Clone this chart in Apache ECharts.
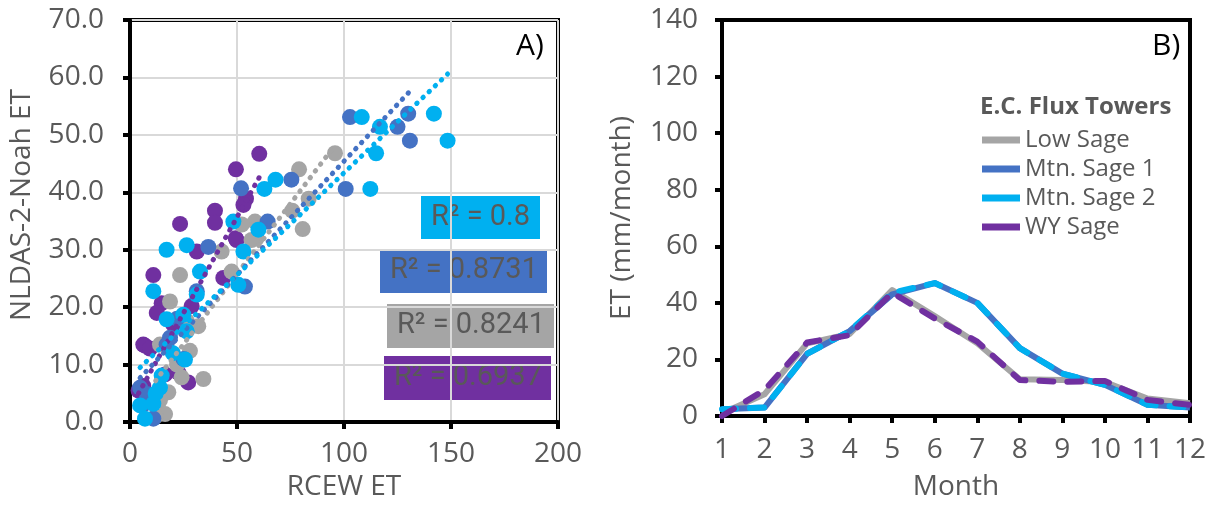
<!DOCTYPE html>
<html>
<head>
<meta charset="utf-8">
<script src="https://cdn.jsdelivr.net/npm/echarts@6/dist/echarts.min.js"></script>
<style>
  html, body { margin: 0; padding: 0; background: #fff; }
  #chart { width: 1214px; height: 506px; }
</style>
</head>
<body>
<div id="chart"></div>
<script>
// Panel A: monthly ET pairs [RCEW ET, NLDAS-2-Noah ET]
const wySage = [
  [60.4, 46.7], [49.5, 44.0], [54.2, 38.9], [53.0, 37.8], [39.7, 36.8], [39.7, 34.7],
  [23.4, 34.5], [49.4, 32.0], [49.8, 31.7], [31.2, 29.7], [10.9, 25.6], [43.6, 25.1],
  [14.8, 20.7], [28.8, 20.2], [12.5, 19.0], [20.2, 17.0], [6.2, 13.5], [7.0, 13.3],
  [9.3, 12.8], [16.4, 8.3], [22.6, 8.6], [27.2, 6.9], [6.2, 6.3], [4.0, 5.5]
]
const lowSage = [
  [95.8, 46.8], [79.0, 44.0], [83.5, 38.9], [75.8, 36.8], [80.7, 33.6], [58.4, 34.9],
  [52.2, 34.4], [59.2, 32.0], [56.8, 31.7], [42.8, 29.7], [47.5, 26.2], [23.4, 25.6],
  [18.7, 21.0], [31.9, 16.7], [26.5, 17.6], [14.0, 13.5], [28.0, 12.4], [24.1, 7.8],
  [34.3, 7.5], [17.9, 5.2], [14.0, 3.8], [16.4, 1.4], [12.0, 1.0], [22.0, 10.0]
]
const mtnSage1 = [
  [102.8, 53.1], [130.0, 53.7], [125.0, 51.4], [130.8, 49.0], [100.8, 40.6], [75.4, 42.2],
  [51.9, 40.7], [64.3, 34.9], [36.6, 30.5], [53.7, 23.6], [31.2, 22.8], [22.0, 18.0],
  [18.7, 14.7], [17.1, 13.5], [25.0, 11.0], [4.7, 6.0], [7.8, 4.9], [10.9, 0.6], [6.0, 3.0]
]
const mtnSage2 = [
  [108.3, 53.1], [116.8, 51.4], [142.0, 53.7], [148.4, 49.0], [115.0, 46.8], [112.3, 40.6],
  [68.0, 42.2], [62.8, 40.6], [48.3, 34.9], [60.0, 33.5], [17.1, 30.0], [26.5, 30.8],
  [53.0, 29.7], [32.7, 26.2], [50.6, 23.9], [10.9, 22.8], [31.2, 22.2], [24.9, 18.7],
  [17.1, 17.9], [26.5, 15.8], [25.7, 10.9], [20.0, 12.0], [14.8, 8.1], [14.0, 6.0],
  [12.0, 5.0], [4.7, 2.9], [10.9, 3.2], [7.0, 0.6]
]

// linear trendline end points
const wyTrend = [[4.0, 5.0], [60.4, 42.6]]
const lowTrend = [[12.0, 7.2], [95.8, 48.2]]
const mtn1Trend = [[4.7, 7.7], [130.8, 57.6]]
const mtn2Trend = [[4.7, 9.5], [148.4, 60.6]]

const rSquared = ['R² = 0.8', 'R² = 0.8731', 'R² = 0.8241', 'R² = 0.6937']

// Panel B: monthly ET (mm/month)
const months = ['1', '2', '3', '4', '5', '6', '7', '8', '9', '10', '11', '12']
const lowSageMonthly = [1.0, 7.7, 25.7, 29.0, 44.5, 35.3, 25.7, 13.0, 12.7, 12.0, 6.2, 4.5]
const mtnSage1Monthly = [2.4, 3.0, 22.0, 30.0, 43.0, 47.0, 40.0, 24.0, 15.0, 11.0, 4.0, 3.0]
const mtnSage2Monthly = [2.4, 3.0, 22.0, 30.0, 43.6, 47.0, 40.0, 24.0, 15.0, 11.0, 4.0, 3.0]
const wySageMonthly = [0.0, 9.2, 26.0, 28.6, 43.6, 34.5, 26.3, 12.7, 12.1, 12.4, 5.7, 3.9]

const GRAY = '#A5A5A5'
const BLUE = '#4472C4'
const CYAN = '#00B0F0'
const PURPLE = '#7030A0'
const TXT = '#595959'
const FONT = '"Open Sans", Lato, sans-serif'

const chart = echarts.init(document.getElementById('chart'))

const axisBase = {
  axisLine: { show: true, lineStyle: { color: '#000', width: 4 } },
  axisTick: { show: true, inside: false, length: 7, lineStyle: { color: '#000', width: 4 } },
  axisLabel: { color: TXT, fontSize: 28, fontFamily: FONT },
  nameTextStyle: { color: TXT, fontSize: 28, fontFamily: FONT },
  nameLocation: 'middle',
}

function scatter(name, data, color, z) {
  return {
    name, type: 'scatter', xAxisIndex: 0, yAxisIndex: 0, data,
    symbolSize: 16, itemStyle: { color, opacity: 1 }, z,
  }
}

function trend(data, color) {
  return {
    type: 'line', xAxisIndex: 0, yAxisIndex: 0, data, showSymbol: false, silent: true,
    lineStyle: { color, width: 5, type: [0.5, 8], cap: 'round' }, z: 10,
  }
}

function monthly(name, data, color, dashed, z) {
  return {
    name, type: 'line', xAxisIndex: 1, yAxisIndex: 1, data, showSymbol: false, z,
    lineStyle: dashed
      ? { color, width: 6, type: [14, 14], cap: 'round', join: 'round' }
      : { color, width: 6, type: 'solid', join: 'round' },
    itemStyle: { color },
  }
}

function r2Box(x, y, w, h, color, text) {
  return {
    type: 'group', left: x, top: y, z: 100,
    children: [
      { type: 'rect', shape: { x: 0, y: 0, width: w, height: h }, style: { fill: color } },
      { type: 'text', x: 10, y: h / 2, style: { text, fill: TXT, fontSize: 29, fontFamily: 'Roboto, sans-serif', verticalAlign: 'middle' } },
    ],
  }
}

chart.setOption({
  animation: false,
  grid: [
    { left: 130, right: 656, top: 20, bottom: 81, show: true, borderColor: '#000', borderWidth: 4 },
    { left: 722, right: 24, top: 20, bottom: 90, show: true, borderColor: '#000', borderWidth: 4 },
  ],
  xAxis: [
    {
      ...axisBase, gridIndex: 0, type: 'value', min: 0, max: 200, interval: 50,
      name: 'RCEW ET', nameGap: 48,
      axisLabel: { ...axisBase.axisLabel, margin: 18 },
      splitLine: { show: true, lineStyle: { color: '#D9D9D9', width: 2 } },
    },
    {
      ...axisBase, gridIndex: 1, type: 'category', data: months, boundaryGap: false,
      name: 'Month', nameGap: 57,
      axisLabel: { ...axisBase.axisLabel, margin: 20 },
      axisTick: { ...axisBase.axisTick, alignWithLabel: true },
      splitLine: { show: false },
    },
  ],
  yAxis: [
    {
      ...axisBase, gridIndex: 0, type: 'value', min: 0, max: 70, interval: 10,
      name: 'NLDAS-2-Noah ET', nameGap: 94,
      nameTextStyle: { ...axisBase.nameTextStyle, padding: [0, 0, 0, 32] },
      axisLabel: { ...axisBase.axisLabel, margin: 26, formatter: (v) => v.toFixed(1) },
      splitLine: { show: true, lineStyle: { color: '#D9D9D9', width: 2 } },
    },
    {
      ...axisBase, gridIndex: 1, type: 'value', min: 0, max: 140, interval: 20,
      name: 'ET (mm/month)', nameGap: 86,
      axisLabel: { ...axisBase.axisLabel, margin: 24 },
      splitLine: { show: false },
    },
  ],
  legend: {
    data: ['Low Sage', 'Mtn. Sage 1', 'Mtn. Sage 2', 'WY Sage'],
    orient: 'vertical', left: 977, top: 123, itemGap: 5,
    icon: 'rect', itemWidth: 38, itemHeight: 7,
    textStyle: { color: TXT, fontSize: 24, fontFamily: FONT },
  },
  graphic: [
    { type: 'text', x: 980, y: 107, style: { text: 'E.C. Flux Towers', fill: TXT, fontSize: 24, fontWeight: 'bold', fontFamily: FONT, verticalAlign: 'middle' } },
    { type: 'text', x: 516, y: 46, style: { text: 'A)', fill: '#000', fontSize: 30, fontFamily: FONT, verticalAlign: 'middle' } },
    { type: 'text', x: 1152, y: 46, style: { text: 'B)', fill: '#000', fontSize: 30, fontFamily: FONT, verticalAlign: 'middle' } },
    r2Box(421, 196, 119, 43, CYAN, rSquared[0]),
    r2Box(380, 249, 167, 44, BLUE, rSquared[1]),
    r2Box(387, 304, 167, 44, GRAY, rSquared[2]),
    r2Box(384, 356, 167, 44, PURPLE, rSquared[3]),
  ],
  series: [
    scatter('WY Sage A', wySage, PURPLE, 2),
    scatter('Low Sage A', lowSage, GRAY, 3),
    scatter('Mtn. Sage 1 A', mtnSage1, BLUE, 4),
    scatter('Mtn. Sage 2 A', mtnSage2, CYAN, 5),
    trend(wyTrend, PURPLE),
    trend(lowTrend, GRAY),
    trend(mtn1Trend, BLUE),
    trend(mtn2Trend, CYAN),
    monthly('Low Sage', lowSageMonthly, GRAY, false, 2),
    monthly('Mtn. Sage 1', mtnSage1Monthly, BLUE, false, 3),
    monthly('Mtn. Sage 2', mtnSage2Monthly, CYAN, true, 4),
    monthly('WY Sage', wySageMonthly, PURPLE, true, 5),
  ],
})
</script>
</body>
</html>
